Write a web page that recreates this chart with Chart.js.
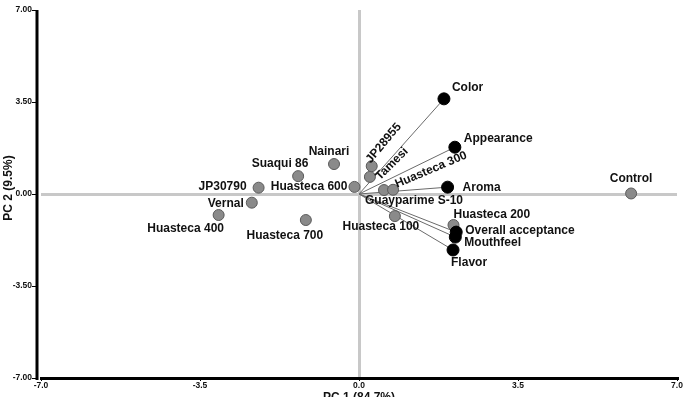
<!DOCTYPE html>
<html>
<head>
<meta charset="utf-8">
<script src="https://cdn.jsdelivr.net/npm/chart.js@4.4.0/dist/chart.umd.min.js"></script>
<style>
html, body { margin: 0; padding: 0; background: #fff; overflow: hidden; }
#wrap { width: 694px; height: 397px; }
</style>
</head>
<body>
<div id="wrap"><canvas id="pca" width="694" height="397"></canvas></div>
<script>
// muestras (scores del PCA)
var sampleNames = ['Control', 'Huasteca 200', 'Huasteca 100', 'Guayparime S-10', 'Huasteca 300', 'Tamesi',
    'JP28955', 'Huasteca 600', 'Nainari', 'Suaqui 86', 'JP30790', 'Vernal', 'Huasteca 400', 'Huasteca 700'];
var sampleX = [5.99, 2.08, 0.79, 0.55, 0.75, 0.24, 0.28, -0.10, -0.55, -1.34, -2.21, -2.36, -3.09, -1.17];
var sampleY = [0.02, -1.18, -0.84, 0.15, 0.16, 0.65, 1.06, 0.27, 1.14, 0.68, 0.24, -0.33, -0.80, -0.99];

// atributos sensoriales (loadings)
var attrNames = ['Color', 'Appearance', 'Aroma', 'Overall acceptance', 'Mouthfeel', 'Flavor'];
var attrX = [1.87, 2.11, 1.95, 2.14, 2.12, 2.07];
var attrY = [3.62, 1.78, 0.26, -1.45, -1.64, -2.13];

var axisTicks = [-7, -3.5, 0, 3.5, 7];
var xTitle = 'PC 1 (84.7%)';
var yTitle = 'PC 2 (9.5%)';

var FONT = '"Liberation Sans", Arial, sans-serif';

// posicion de cada etiqueta respecto a su punto: dx, dy, alineacion, giro (grados)
var labelPos = {
    'Control': [0, -15, 'center', 0],
    'Huasteca 200': [0, -10, 'left', 0],
    'Huasteca 100': [-14, 11, 'center', 0],
    'Guayparime S-10': [30, 11, 'center', 0],
    'Huasteca 300': [38, -20, 'center', -23],
    'Tamesi': [22, -13, 'center', -45],
    'JP28955': [12, -23, 'center', -50],
    'Huasteca 600': [-7, 0, 'right', 0],
    'Nainari': [-5, -12, 'center', 0],
    'Suaqui 86': [-18, -12, 'center', 0],
    'JP30790': [-12, -1, 'right', 0],
    'Vernal': [-8, 1, 'right', 0],
    'Huasteca 400': [-33, 14, 'center', 0],
    'Huasteca 700': [-21, 16, 'center', 0],
    'Color': [8, -11, 'left', 0],
    'Appearance': [9, -9, 'left', 0],
    'Aroma': [15, 1, 'left', 0],
    'Overall acceptance': [9, -1, 'left', 0],
    'Mouthfeel': [9, 6, 'left', 0],
    'Flavor': [-2, 13, 'left', 0]
};

function toPoints(xs, ys) {
    return xs.map(function (v, i) { return { x: v, y: ys[i] }; });
}

var datasets = [];
// puntos negros de atributos (encima)
datasets.push({
    label: 'atributos',
    data: toPoints(attrX, attrY),
    backgroundColor: '#000',
    borderColor: '#000',
    borderWidth: 1,
    pointRadius: 6,
    order: 1
});
// puntos grises de muestras
datasets.push({
    label: 'muestras',
    data: toPoints(sampleX, sampleY),
    backgroundColor: '#8a8a8a',
    borderColor: '#5a5a5a',
    borderWidth: 1,
    pointRadius: 5.5,
    order: 2
});
// vectores desde el origen hasta cada atributo
attrNames.forEach(function (n, i) {
    datasets.push({
        type: 'line',
        label: n,
        data: [{ x: 0, y: 0 }, { x: attrX[i], y: attrY[i] }],
        borderColor: '#6a6a6a',
        borderWidth: 1,
        pointRadius: 0,
        fill: false,
        order: 3
    });
});

function gridColor(ctx) {
    return ctx.tick && ctx.tick.value === 0 ? '#c8c8c8' : 'rgba(0,0,0,0)';
}

// eje Y negro separado unos pixeles del area de datos, como en la figura original
var yAxisLine = {
    id: 'yAxisLine',
    afterDraw: function (chart) {
        var c = chart.ctx, sy = chart.scales.y;
        var ax = chart.chartArea.left - 4;
        c.save();
        c.strokeStyle = '#000';
        c.lineWidth = 3;
        c.beginPath();
        c.moveTo(ax, sy.getPixelForValue(7));
        c.lineTo(ax, sy.getPixelForValue(-7) + 2);
        c.stroke();
        c.lineWidth = 1;
        axisTicks.forEach(function (v) {
            var y = Math.round(sy.getPixelForValue(v)) + 0.5;
            c.beginPath();
            c.moveTo(ax - 5, y);
            c.lineTo(ax, y);
            c.stroke();
        });
        c.restore();
    }
};

var labelsPlugin = {
    id: 'labels',
    afterDatasetsDraw: function (chart) {
        var c = chart.ctx;
        var sx = chart.scales.x, sy = chart.scales.y;
        c.save();
        c.fillStyle = '#111';
        c.font = 'bold 12px ' + FONT;
        c.textBaseline = 'middle';
        var all = sampleNames.map(function (n, i) { return [n, sampleX[i], sampleY[i]]; })
            .concat(attrNames.map(function (n, i) { return [n, attrX[i], attrY[i]]; }));
        all.forEach(function (p) {
            var o = labelPos[p[0]] || [0, -12, 'center', 0];
            var px = sx.getPixelForValue(p[1]) + o[0];
            var py = sy.getPixelForValue(p[2]) + o[1];
            c.save();
            c.translate(px, py);
            c.rotate(o[3] * Math.PI / 180);
            c.textAlign = o[2];
            c.fillText(p[0], 0, 0);
            c.restore();
        });
        // titulos de ejes
        c.textAlign = 'center';
        c.textBaseline = 'alphabetic';
        c.fillText(xTitle, sx.getPixelForValue(0), 401);
        c.save();
        c.translate(12, 188);
        c.rotate(-Math.PI / 2);
        c.fillText(yTitle, 0, 0);
        c.restore();
        c.restore();
    }
};

var chart = new Chart(document.getElementById('pca').getContext('2d'), {
    type: 'scatter',
    data: { datasets: datasets },
    options: {
        responsive: false,
        animation: false,
        devicePixelRatio: 1,
        layout: { padding: { top: 10, right: 17, left: 0, bottom: 0 } },
        plugins: { legend: { display: false }, tooltip: { enabled: false } },
        scales: {
            x: {
                type: 'linear',
                min: -7, max: 7,
                afterBuildTicks: function (s) { s.ticks = axisTicks.map(function (v) { return { value: v }; }); },
                afterFit: function (s) { s.height = 19; },
                grid: { color: gridColor, lineWidth: 3, drawTicks: true, tickLength: 3, tickColor: '#000', tickWidth: 1 },
                border: { display: true, color: '#000', width: 3 },
                ticks: {
                    padding: 0,
                    color: '#111',
                    font: { family: FONT, size: 8.5, weight: 'bold' },
                    maxRotation: 0,
                    callback: function (v) { return Number(v).toFixed(1); }
                }
            },
            y: {
                type: 'linear',
                min: -7, max: 7,
                afterBuildTicks: function (s) { s.ticks = axisTicks.map(function (v) { return { value: v }; }); },
                afterFit: function (s) { s.width = 41; },
                grid: { color: gridColor, lineWidth: 3, drawTicks: true, tickLength: 8, tickColor: 'rgba(0,0,0,0)' },
                border: { display: false },
                ticks: {
                    padding: 1,
                    color: '#111',
                    font: { family: FONT, size: 8.5, weight: 'bold' },
                    callback: function (v) { return Number(v).toFixed(2); }
                }
            }
        }
    },
    plugins: [yAxisLine, labelsPlugin]
});
</script>
</body>
</html>
